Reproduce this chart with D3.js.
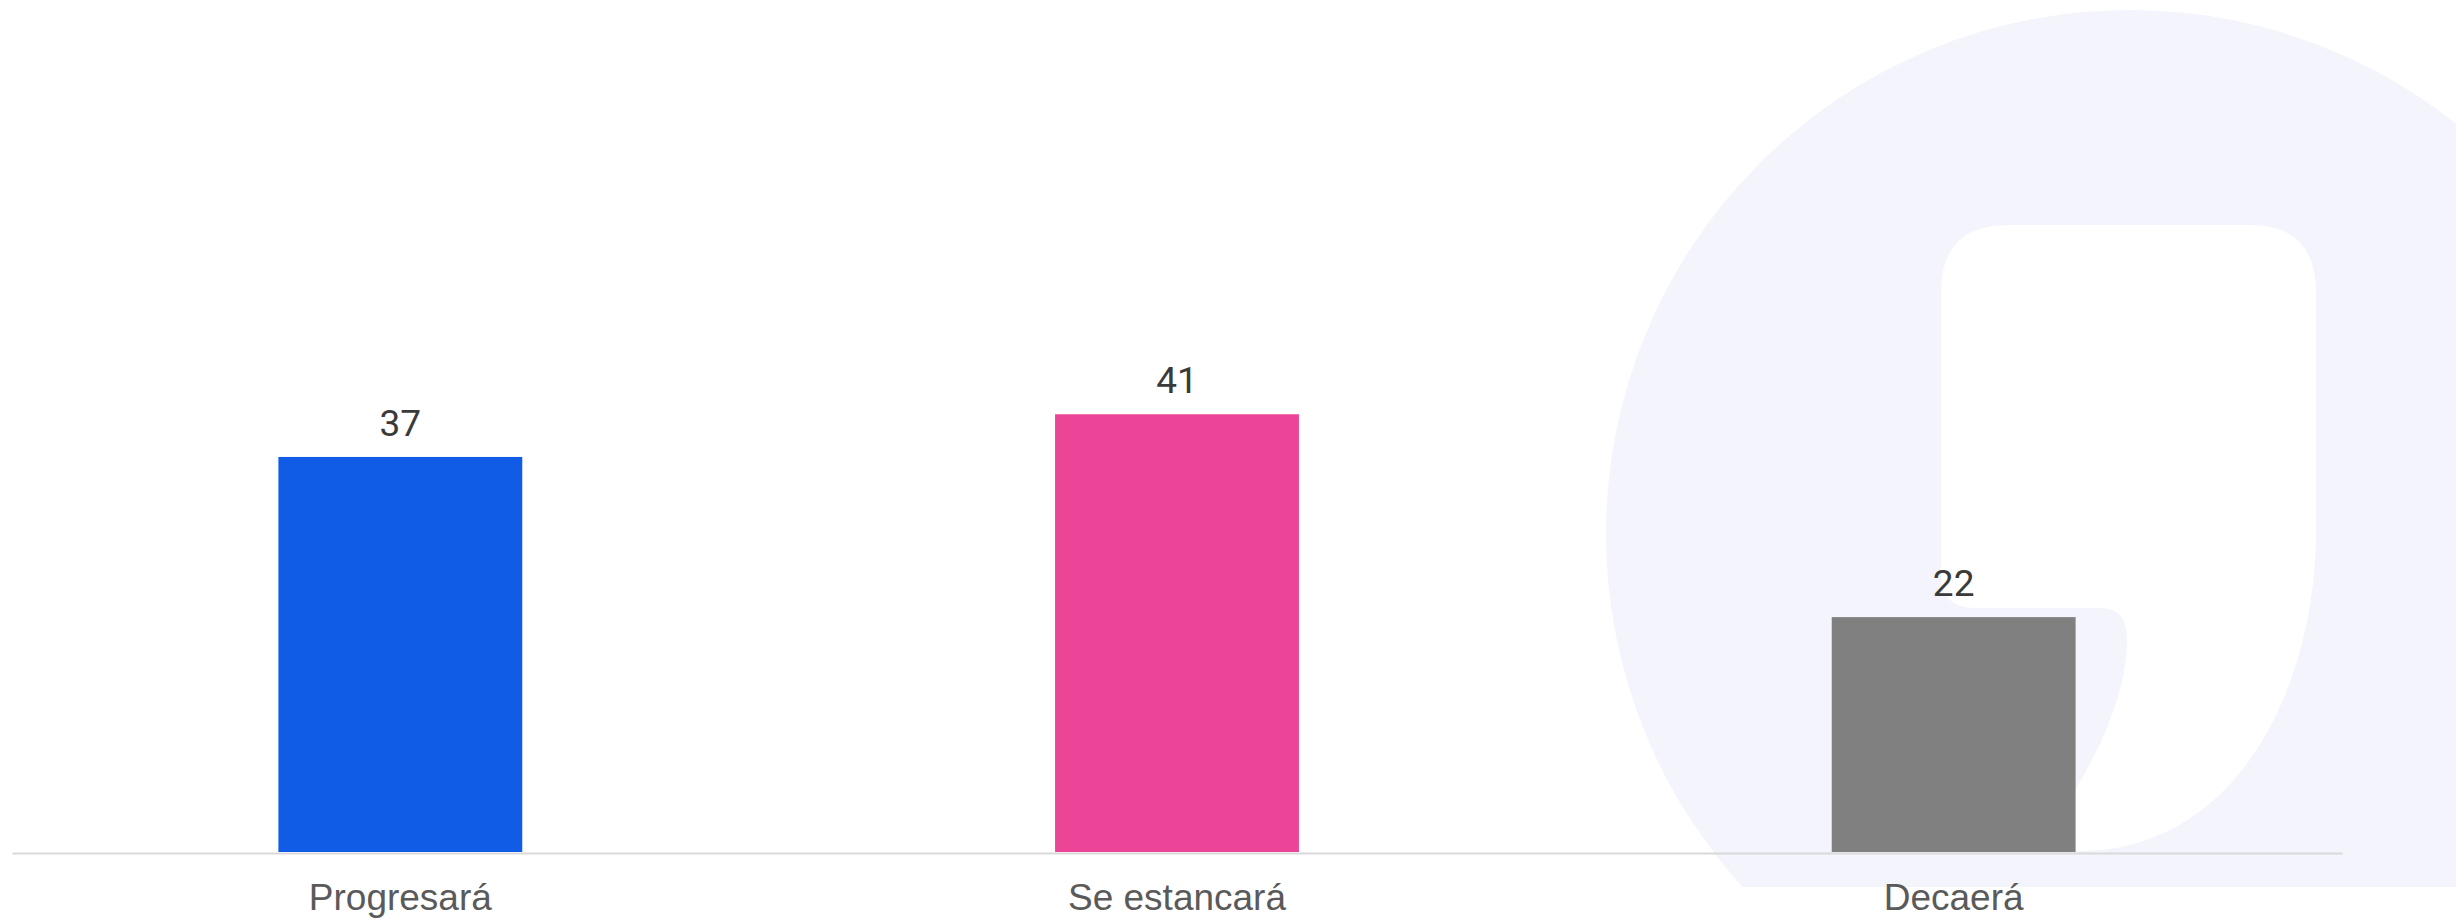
<!DOCTYPE html>
<html>
<head>
<meta charset="utf-8">
<script src="https://cdn.jsdelivr.net/npm/d3@7"></script>
<style>
  html, body { margin: 0; padding: 0; background: #ffffff; }
  svg { display: block; }
</style>
</head>
<body>
<svg id="chart" width="2456" height="920"></svg>
<script>
const categories = ["Progresará", "Se estancará", "Decaerá"];
const values = [37, 41, 22];
const colors = ["#105ce6", "#ec4496", "#808080"];

const W = 2456, H = 920;
const svg = d3.select("#chart");

// Watermark background (decorative)
const wm = svg.append("g");
wm.append("clipPath").attr("id", "wmclip")
  .append("rect").attr("x", 0).attr("y", 0).attr("width", W).attr("height", 887);
wm.append("circle")
  .attr("cx", 2130).attr("cy", 534).attr("r", 524)
  .attr("fill", "#f3f4fc")
  .attr("clip-path", "url(#wmclip)");
wm.append("path")
  .attr("fill", "#ffffff")
  .attr("d", "M1941,292 Q1941,225 2008,225 L2249,225 Q2316,225 2316,292 L2316,530 " +
             "C2316,690 2235,851 2080,851 L2030,852 " +
             "C2090,780 2127,700 2127,640 Q2127,608 2100,608 L1975,608 Q1941,608 1941,574 Z");

// Scales
const x = d3.scaleBand().domain(categories).range([12, 2342])
  .paddingInner(0.686).paddingOuter(0.343);
const y = d3.scaleLinear().domain([0, 79.8]).range([852, 0]);

// Bars
svg.append("g").selectAll("rect")
  .data(values)
  .join("rect")
  .attr("x", (d, i) => x(categories[i]))
  .attr("y", d => y(d))
  .attr("width", x.bandwidth())
  .attr("height", d => y(0) - y(d))
  .attr("fill", (d, i) => colors[i]);

// Value labels
svg.append("g").selectAll("text")
  .data(values)
  .join("text")
  .attr("x", (d, i) => x(categories[i]) + x.bandwidth() / 2)
  .attr("y", d => y(d) - 21)
  .attr("text-anchor", "middle")
  .attr("font-family", "Roboto, 'Noto Sans', sans-serif")
  .attr("font-size", 37)
  .attr("fill", "#3a3a3a")
  .text(d => d);

// X axis
const xAxis = d3.axisBottom(x).tickSize(0).tickPadding(0);
const gx = svg.append("g").attr("transform", "translate(0,853)").call(xAxis);
gx.select(".domain").attr("stroke", "#d9d9d9").attr("stroke-width", 2);
gx.selectAll(".tick text")
  .attr("dy", null)
  .attr("y", 57)
  .attr("font-family", "'Liberation Sans', Arial, sans-serif")
  .attr("font-size", 37)
  .attr("fill", "#5a5a5a");
</script>
</body>
</html>
